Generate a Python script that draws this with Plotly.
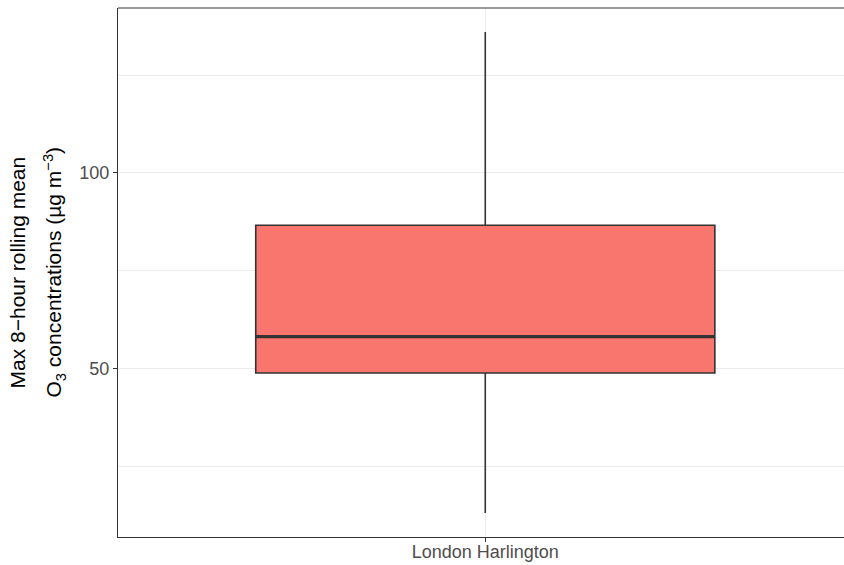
import plotly.graph_objects as go

# Summary statistics of the daily max 8-hour rolling mean O3 (µg m-3)
sites = ["London Harlington"]
lower_whisker = [13.0]
q1 = [48.8]
median = [58.1]
q3 = [86.6]
upper_whisker = [136.0]

y_ticks = [50, 100]
box_width = 0.75

W, H = 844, 565
ML, MR, MT, MB = 118, 0, 8, 28
plot_w = W - ML - MR

fig = go.Figure()

fig.add_trace(go.Box(
    x=[0],
    q1=q1, median=median, q3=q3,
    lowerfence=lower_whisker, upperfence=upper_whisker,
    width=box_width,
    whiskerwidth=0,
    fillcolor="#F8766D",
    line=dict(color="#333333", width=1.6),
    boxpoints=False,
    hoverinfo="skip",
    showlegend=False,
))

# thicker median bar, as in ggplot's fatten
fig.add_trace(go.Scatter(
    x=[-box_width / 2, box_width / 2],
    y=[median[0], median[0]],
    mode="lines",
    line=dict(color="#333333", width=3.4),
    hoverinfo="skip",
    showlegend=False,
))

lo, hi = lower_whisker[0], upper_whisker[0]
pad = 0.05 * (hi - lo)
x_lo = -0.6
x_hi = x_lo + 1.186

fig.update_layout(
    width=W, height=H,
    margin=dict(l=ML, r=MR, t=MT, b=MB),
    paper_bgcolor="white",
    plot_bgcolor="white",
    font=dict(family="Liberation Sans, Arial, sans-serif"),
    xaxis=dict(
        range=[x_lo, x_hi], automargin=False,
        tickmode="array", tickvals=[0], ticktext=sites,
        ticks="outside", ticklen=4, tickcolor="#333333", tickwidth=1,
        ticklabelstandoff=-6,
        tickfont=dict(size=18, color="#4D4D4D"),
        showgrid=True, gridcolor="#EBEBEB", gridwidth=1.1,
        showline=True, linecolor="#333333", linewidth=1,
        zeroline=False,
    ),
    yaxis=dict(
        range=[lo - pad, hi + pad], automargin=False,
        tickmode="array", tickvals=y_ticks,
        ticks="outside", ticklen=4, tickcolor="#333333", tickwidth=1,
        tickfont=dict(size=18, color="#4D4D4D"),
        showgrid=True, gridcolor="#EBEBEB", gridwidth=1.1,
        minor=dict(tickmode="array", tickvals=[25, 75, 125],
                   showgrid=True, gridcolor="#EBEBEB", gridwidth=0.6),
        showline=True, linecolor="#333333", linewidth=1,
        zeroline=False,
    ),
    shapes=[dict(type="line", xref="paper", yref="paper",
                 x0=0, x1=1, y0=1, y1=1,
                 line=dict(color="#333333", width=1))],
)

def px_to_paper(px):
    return (px - ML) / plot_w

fig.add_annotation(
    text="Max 8−hour rolling mean",
    xref="paper", yref="paper", x=px_to_paper(17), y=0.5,
    xanchor="center", yanchor="middle", textangle=-90, showarrow=False,
    font=dict(size=21, color="black"),
)
fig.add_annotation(
    text="O<sub>3</sub> concentrations (µg m<sup>−3</sup>)",
    xref="paper", yref="paper", x=px_to_paper(54), y=0.5,
    xanchor="center", yanchor="middle", textangle=-90, showarrow=False,
    font=dict(size=21, color="black"),
)

fig.write_html("out.html")
